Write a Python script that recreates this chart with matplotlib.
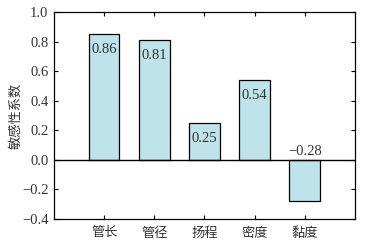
import numpy as np
import matplotlib.pyplot as plt

plt.rcParams['font.family'] = ['Liberation Serif', 'Noto Sans CJK SC']
plt.rcParams['axes.unicode_minus'] = True

categories = ['管长', '管径', '扬程', '密度', '黏度']
values = [0.85, 0.81, 0.25, 0.54, -0.28]
value_labels = ['0.86', '0.81', '0.25', '0.54', '\u22120.28']

fig = plt.figure(figsize=(3.82, 2.41), dpi=100)
ax = fig.add_axes([0.1414, 0.0913, 0.7876, 0.8587])

x = np.arange(1, len(categories) + 1)
ax.bar(x, values, width=0.61, color='#bfe3ea', edgecolor='black', linewidth=0.9, zorder=2)
ax.axhline(0, color='black', linewidth=1.0, zorder=3)

for xi, v, lab in zip(x, values, value_labels):
    if v >= 0:
        ax.text(xi, v - 0.06, lab, ha='center', va='top', fontsize=10.5, color='#333333', zorder=4)
    else:
        ax.text(xi, 0.015, lab, ha='center', va='bottom', fontsize=10.5, color='#333333', zorder=4)

ax.set_xlim(0, 6)
ax.set_ylim(-0.4, 1.0)
ax.set_xticks(x)
ax.set_xticklabels(categories, fontsize=9.5, color='#333333')
ax.set_yticks(np.arange(-0.4, 1.01, 0.2))
ax.set_yticklabels(['\u22120.4', '\u22120.2', '0.0', '0.2', '0.4', '0.6', '0.8', '1.0'],
                   fontsize=10.5, color='#333333')
ax.tick_params(direction='in', top=True, right=True, length=3, width=0.8, pad=4)
ax.tick_params(axis='x', pad=6)
ax.set_ylabel('敏感性系数', fontsize=9.5, color='#333333')
ax.yaxis.set_label_coords(-0.105, 0.5)
for s in ax.spines.values():
    s.set_linewidth(0.9)

fig.savefig('out.png', dpi=100)
